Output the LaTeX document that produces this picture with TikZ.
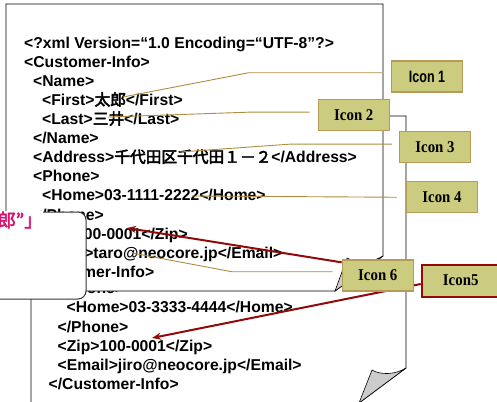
\documentclass[tikz,border=0pt]{standalone}
\usepackage{fontspec}
\setmainfont{Liberation Sans}
\newfontfamily\cjk[AutoFakeBold=3]{Noto Sans CJK JP}
\newfontfamily\iconfont[FakeStretch=0.9]{Liberation Serif}
\newfontfamily\narrowfont[FakeStretch=0.76]{Liberation Sans}
\usetikzlibrary{arrows.meta}
\definecolor{iconfill}{RGB}{204,204,128}
\definecolor{iconline}{RGB}{181,154,90}
\definecolor{linkgold}{RGB}{176,140,64}
\definecolor{arrowred}{RGB}{145,10,10}
\definecolor{calloutpink}{RGB}{214,22,110}
\tikzset{
  page/.style={draw=black, fill=white, line width=0.8pt},
  flap/.style={draw=black, fill=black!20, line width=0.6pt},
  xmltext/.style={anchor=base west, inner sep=0pt, font=\fontsize{15.7}{19}\selectfont\bfseries},
  icon/.style={draw=iconline, fill=iconfill, line width=1.2pt, minimum width=71pt, minimum height=31pt, inner sep=0pt, font=\fontsize{16.5}{16.5}\selectfont\bfseries},
  link/.style={draw=linkgold, line width=0.9pt},
  pointer/.style={draw=arrowred, line width=2pt, -{Stealth[length=9pt,width=7pt]}}
}

\begin{document}
\begin{tikzpicture}[x=1pt, y=-1pt]
 \useasboundingbox (0,0) rectangle (497,401);
 % second page, behind
                \draw [page] (31,116) -- (406,116) -- (406,368) -- (359,403) -- (31,403) -- cycle;
                \draw [flap] (406,368) .. controls (395,375) and (380,375) .. (372,370) -- (359,403) -- cycle;
                \node at (57.5,293.8) (phoneB) [xmltext] {<Phone>};
                \node at (66.5,312.9) (homeB) [xmltext] {<Home>03-3333-4444</Home>};
                \node at (57.5,332) (phoneendB) [xmltext] {</Phone>};
                \node at (57.5,351.1) (zipB) [xmltext] {<Zip>100-0001</Zip>};
                \node at (57.5,370.2) (emailB) [xmltext] {<Email>jiro@neocore.jp</Email>};
                \node at (48.5,389.3) (custendB) [xmltext] {</Customer-Info>};
 % first page, in front
                \draw [page] (6,4) -- (383,4) -- (383,256) -- (335,291) -- (6,291) -- cycle;
                \draw [flap] (383,256) .. controls (372,263) and (356,263) .. (347,258) -- (335,291) -- cycle;
                \node at (24,48.1) (xmldecl) [xmltext] {<?xml Version=“1.0 Encoding=“UTF-8”?>};
                \node at (24,67.2) (custinfo) [xmltext] {<Customer-Info>};
                \node at (33,86.3) (name) [xmltext] {<Name>};
                \node at (42,105.4) (first) [xmltext] {<First>{\cjk 太郎}</First>};
                \node at (42,124.5) (last) [xmltext] {<Last>{\cjk 三井}</Last>};
                \node at (33,143.6) (nameend) [xmltext] {</Name>};
                \node at (33,162.7) (address) [xmltext] {<Address>{\cjk 千代田区千代田１－２}</Address>};
                \node at (33,181.8) (phone) [xmltext] {<Phone>};
                \node at (42,200.9) (home) [xmltext] {<Home>03-1111-2222</Home>};
                \node at (33,220) (phoneend) [xmltext] {</Phone>};
                \node at (33,239.1) (zip) [xmltext] {<Zip>100-0001</Zip>};
                \node at (33,258.2) (email) [xmltext] {<Email>taro@neocore.jp</Email>};
                \node at (24,277.3) (custend) [xmltext] {</Customer-Info>};
 % where the lines end
                \coordinate (taroend) at (123,97);
                \coordinate (mitsuiend) at (108,117);
                \coordinate (addrend) at (180,152);
                \coordinate (homeend) at (192,196);
                \coordinate (mailend) at (132,253);
                \coordinate (zipend) at (127,228);
                \coordinate (zipendB) at (152,338);
 % icons
                \node at (427,76.5) (icon1) [icon] {\narrowfont Icon 1};
                \node at (353.8,115.3) (icon2) [icon] {\iconfont Icon 2};
                \node at (435,147.3) (icon3) [icon] {\iconfont Icon 3};
                \node at (442,197.3) (icon4) [icon] {\iconfont Icon 4};
                \node at (377.8,275.5) (icon6) [icon] {\iconfont Icon 6};
                \node at (460.7,280.5) (icon5) [icon, draw=arrowred, line width=2pt, minimum width=78pt, minimum height=32pt] {\iconfont Icon5};
 % thin lines to the text
                \draw [link, shorten <=9pt] (icon1.174) -- ++(-142,0) -- (taroend);
                \draw [link, shorten <=8pt] (icon2.175) -- ++(-68,0) -- (mitsuiend);
                \draw [link, shorten <=7pt] (icon3.175) -- ++(-109,0) -- (addrend);
                \draw [link, shorten <=9pt] (icon4.west) -- (homeend);
                \draw [link, shorten <=9pt] (icon6.174) -- ++(-110,0) -- (mailend);
 % red arrows
                \draw [pointer] (icon6.160) -- (zipend);
                \draw [pointer] (icon5.185) -- (zipendB);
 % icons again on top of the lines
                \node at (icon6.center) [icon] {\iconfont Icon 6};
                \node at (icon5.center) [icon, draw=arrowred, line width=2pt, minimum width=78pt, minimum height=32pt] {\iconfont Icon5};
 % callout box on the left
                \fill [white, rounded corners=8pt] (-20,212) rectangle (86,299);
                \draw [black!80, line width=1pt, rounded corners=8pt] (43,212) -- (86,212) -- (86,299) -- (-20,299);
                \node at (43,220) (callouttext) [anchor=east, fill=white, inner sep=0.5pt, text=calloutpink, font=\fontsize{18}{18}\selectfont\bfseries\cjk] {郎”」};
\end{tikzpicture}
\end{document}
